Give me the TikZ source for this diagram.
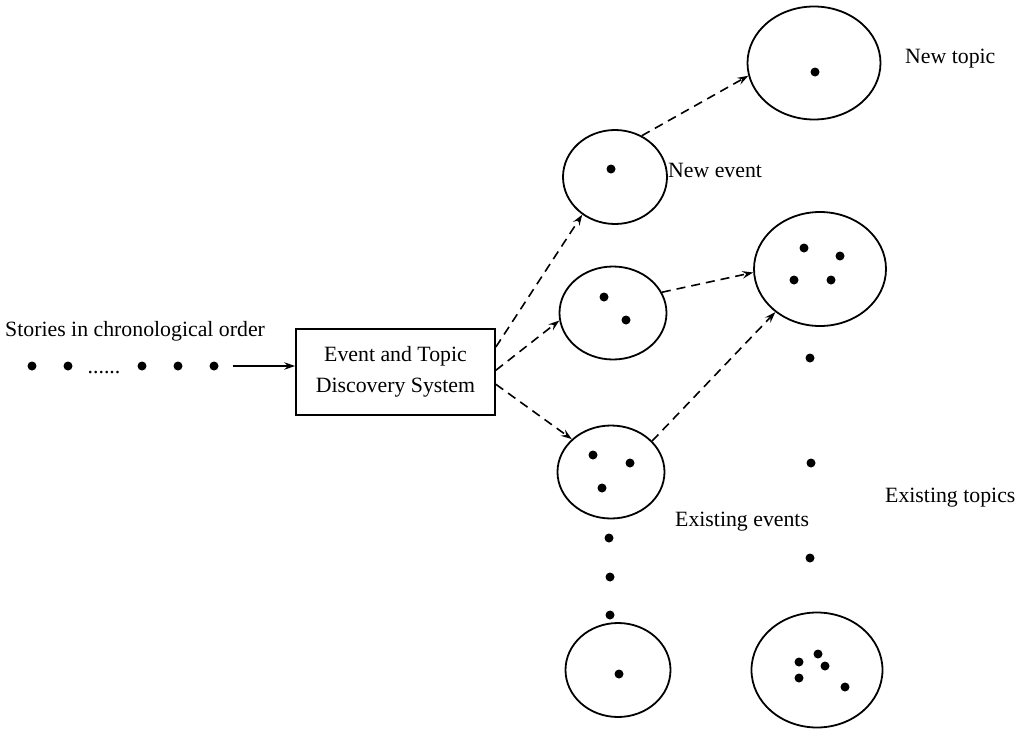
\documentclass[tikz,border=0pt]{standalone}
\usepackage{fontspec}
\setmainfont{Liberation Serif}
\usetikzlibrary{arrows.meta,shapes.geometric}

\begin{document}
\begin{tikzpicture}[x=1pt,y=-1pt,
  every node/.style={font=\fontsize{21.8}{25}\selectfont},
  cluster/.style={draw, ellipse, line width=1.8pt, inner sep=0pt},
  story/.style={circle, fill=black, inner sep=0pt, minimum size=9pt},
  label/.style={inner sep=0pt},
  tip/.style={-{Stealth[length=11pt,width=7.5pt,inset=4pt]}, line width=1.6pt},
  link/.style={tip, dash pattern=on 9pt off 6pt}
]
\useasboundingbox (0,0) rectangle (1021,731);

% incoming stream of stories
\node[label, anchor=west] (head) at (5,331) {Stories in chronological order};
\node[story] (s1) at (32,366) {};
\node[story] (s2) at (68,366) {};
\node[label, anchor=base] (gap) at (104,373) {......};
\node[story] (s3) at (142,366) {};
\node[story] (s4) at (178,366) {};
\node[story] (s5) at (214,366) {};

% detection system
\node[draw, line width=1.8pt, minimum width=199pt, minimum height=86pt,
      align=center, inner sep=0pt] (sys) at (395.5,372)
  {Event and Topic\\[6pt]Discovery System};
\draw[tip, shorten <=14pt] (s5) -- (sys.west |- s5);

% event clusters
\node[cluster, minimum width=104pt, minimum height=94pt] (ev1) at (615,177) {};
\node[cluster, minimum width=107pt, minimum height=93pt] (ev2) at (613,313) {};
\node[cluster, minimum width=107pt, minimum height=93pt] (ev3) at (611,472) {};
\node[cluster, minimum width=105pt, minimum height=94pt] (ev4) at (618,670) {};

% topic clusters
\node[cluster, minimum width=133pt, minimum height=113pt] (tp1) at (814,63) {};
\node[cluster, minimum width=132pt, minimum height=114pt] (tp2) at (820,269) {};
\node[cluster, minimum width=131pt, minimum height=115pt] (tp3) at (817,670) {};

% stories inside the clusters
\node[story] (e1a) at (611,169) {};
\node[story] (e2a) at (604,297) {};
\node[story] (e2b) at (626,320) {};
\node[story] (e3a) at (593,455) {};
\node[story] (e3b) at (630,463) {};
\node[story] (e3c) at (602,488) {};
\node[story] (e4a) at (619,674) {};

\node[story] (t1a) at (815,72) {};
\node[story] (t2a) at (804,248) {};
\node[story] (t2b) at (840,256) {};
\node[story] (t2c) at (794,280) {};
\node[story] (t2d) at (831,280) {};
\node[story] (t3a) at (799,662) {};
\node[story] (t3b) at (818,654) {};
\node[story] (t3c) at (825,666) {};
\node[story] (t3d) at (799,678) {};
\node[story] (t3e) at (845,687) {};

% ellipsis dots between clusters
\node[story] (v1) at (609,538) {};
\node[story] (v2) at (610,577) {};
\node[story] (v3) at (610,615) {};
\node[story] (w1) at (810,358) {};
\node[story] (w2) at (811,463) {};
\node[story] (w3) at (810,558) {};

% labels
\node[label, anchor=west] (lne) at (668,170) {New event};
\node[label, anchor=west] (lnt) at (905,59) {New topic};
\node[label, anchor=west] (lee) at (675,522) {Existing events};
\node[label, anchor=west] (let) at (885,498) {Existing topics};

% assignments made by the system
\draw[link] (sys.14) -- (ev1.229);
\draw[link] (sys.1) -- (ev2.188);
\draw[link] (sys.-7) -- (ev3.140);
\draw[link] (ev1.57) -- (tp1.191);
\draw[link] (ev2.23) -- (tp2.183);
\draw[link] (ev3.37) -- (tp2.224);
\end{tikzpicture}
\end{document}
